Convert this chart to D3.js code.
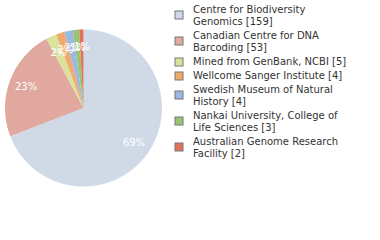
<!DOCTYPE html>
<html>
<head>
<meta charset="utf-8">
<script src="https://cdn.jsdelivr.net/npm/d3@7"></script>
<style>
  body { margin: 0; background: #fff; }
  svg { display: block; }
</style>
</head>
<body>
<div class="chart"></div>
<script>
// data
const labels = [
    ['Centre for Biodiversity', 'Genomics [159]'],
    ['Canadian Centre for DNA', 'Barcoding [53]'],
    ['Mined from GenBank, NCBI [5]'],
    ['Wellcome Sanger Institute [4]'],
    ['Swedish Museum of Natural', 'History [4]'],
    ['Nankai University, College of', 'Life Sciences [3]'],
    ['Australian Genome Research', 'Facility [2]']
];
const counts = [159, 53, 5, 4, 4, 3, 2];
const colors = ['#cfdae6', '#e0a89e', '#dbe29e', '#f0aa6c', '#9ab9e0', '#9ac474', '#e07258'];

const width = 380, height = 240;
const cx = 83.5, cy = 108, radius = 78.5;

const svg = d3.select('.chart')
    .append('svg')
    .attr('width', width)
    .attr('height', height);

const total = d3.sum(counts);

const pie = d3.pie().sort(null).value(d => d)(counts);
const arc = d3.arc().innerRadius(0).outerRadius(radius);
const labelArc = d3.arc().innerRadius(radius * 0.78).outerRadius(radius * 0.78);

const g = svg.append('g')
    .attr('transform', `translate(${cx},${cy})`);

g.selectAll('path')
    .data(pie)
    .enter()
    .append('path')
    .attr('d', arc)
    .attr('fill', (d, i) => colors[i]);

g.selectAll('text')
    .data(pie)
    .enter()
    .append('text')
    .attr('transform', d => `translate(${labelArc.centroid(d)})`)
    .attr('text-anchor', 'middle')
    .attr('dy', '0.35em')
    .attr('fill', '#fff')
    .style('font-family', 'DejaVu Sans')
    .style('font-size', '10px')
    .text(d => Math.round(d.data / total * 100) + '%');

// legend, entries stacked by line count
const lineH = 12, gap = 2;
let y = 13;
const rows = labels.map(l => {
    const r = {first: y, lines: l};
    y += l.length * lineH + gap;
    return r;
});

const legend = svg.append('g');

legend.selectAll('rect')
    .data(rows)
    .enter()
    .append('rect')
    .attr('x', 175)
    .attr('y', d => d.lines.length > 1
        ? d.first + lineH / 2 - 8
        : d.first - 7)
    .attr('width', 8)
    .attr('height', 8)
    .attr('fill', (d, i) => colors[i])
    .attr('stroke', '#777')
    .attr('stroke-width', 1);

const txt = legend.selectAll('text')
    .data(rows)
    .enter()
    .append('text')
    .attr('x', 193)
    .attr('y', d => d.first)
    .attr('fill', '#333')
    .style('font-family', 'DejaVu Sans')
    .style('font-size', '10px');

txt.selectAll('tspan')
    .data(d => d.lines)
    .enter()
    .append('tspan')
    .attr('x', 193)
    .attr('dy', (d, i) => i ? lineH : 0)
    .text(d => d);
</script>
</body>
</html>
